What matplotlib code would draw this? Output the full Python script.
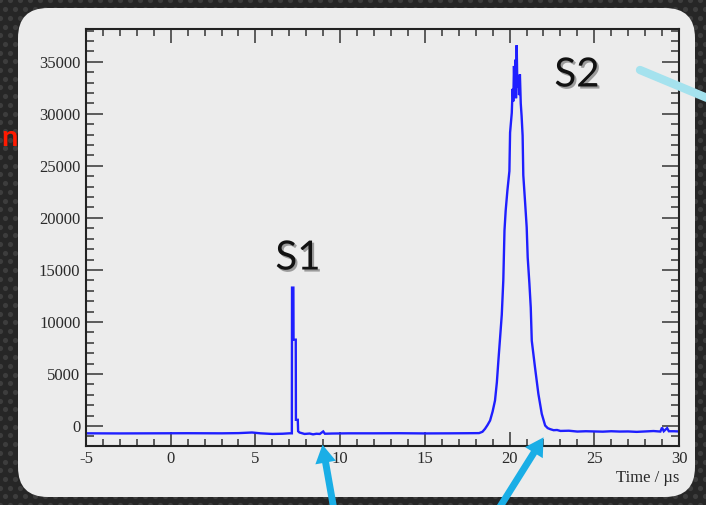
import matplotlib
matplotlib.use('Agg')
import matplotlib.pyplot as plt
import matplotlib.patheffects as pe
import numpy as np
from matplotlib.patches import FancyBboxPatch, FancyArrowPatch
from matplotlib.lines import Line2D
from matplotlib.ticker import MultipleLocator

plt.rcParams['axes.unicode_minus'] = False

# waveform (time in us, counts)
time_us = [-5.0, -3.0, -1.0, 1.0, 3.0, 4.0, 4.8, 5.3, 6.0, 6.6, 7.0, 7.15,
           7.16, 7.24, 7.25, 7.38, 7.39, 7.5, 7.52, 7.6, 7.9, 8.2, 8.4, 8.6,
           8.8, 9.0, 9.1, 9.5, 10.5, 12.0, 13.5, 15.0, 16.5, 17.5, 18.2,
           18.4, 18.55, 18.7, 18.85, 19.0, 19.14, 19.25, 19.34, 19.45, 19.54,
           19.63, 19.7, 19.77, 19.87, 19.99, 20.03, 20.13, 20.18, 20.22, 20.26,
           20.3, 20.34, 20.38, 20.42, 20.46, 20.51, 20.56, 20.61, 20.66, 20.71,
           20.77, 20.81, 20.92, 21.01, 21.07, 21.17, 21.25, 21.31, 21.5, 21.7,
           21.9, 22.1, 22.25, 22.4, 22.6, 22.8, 23.0, 23.5, 24.0, 24.5, 25.0,
           25.5, 26.0, 26.5, 27.0, 27.5, 28.0, 28.5, 28.9, 29.0, 29.1, 29.3,
           29.4, 29.7, 30.0]
counts = [-700, -710, -700, -690, -700, -680, -620, -700, -760, -740, -700, -700,
          13300, 13300, 8300, 8300, 600, 600, -500, -620, -760, -720, -800, -740,
          -760, -520, -740, -720, -700, -700, -690, -710, -700, -690, -680,
          -550, -270, 100, 530, 1400, 2450, 4200, 6290, 8700, 10700,
          14000, 18800, 20700, 22600, 24500, 28200, 30100, 32400, 31200, 34600,
          32000, 35200, 31500, 36600, 32500, 33700, 31800, 33800, 31000, 29800,
          27900, 24100, 21400, 19100, 16200, 13700, 11400, 8200, 5650, 3090,
          1170, 50, -200, -300, -400, -380, -470, -450, -530, -500, -520,
          -540, -500, -530, -520, -560, -520, -480, -530, -150, -500, -200,
          -500, -500, -520]

x_ticks = [-5, 0, 5, 10, 15, 20, 25, 30]
y_ticks = [0, 5000, 10000, 15000, 20000, 25000, 30000, 35000]

fig = plt.figure(figsize=(7.06, 5.05), dpi=100)
fig.patch.set_facecolor('#262626')

# perforated dark slide background
gx, gy = np.meshgrid(np.arange(0, 7.2, 0.1), np.arange(0, 5.2, 0.087))
gx = gx + (np.arange(gy.shape[0])[:, None] % 2) * 0.05
bg = fig.add_axes([0, 0, 1, 1], zorder=-10)
bg.set_xlim(0, 7.06)
bg.set_ylim(0, 5.05)
bg.axis('off')
bg.scatter(gx.ravel(), gy.ravel(), s=14, color='#3d3d3d', lw=0)

# light slide panel
panel = FancyBboxPatch((0.18, 0.08), 6.77, 4.89,
                       boxstyle="round,pad=0,rounding_size=0.3",
                       transform=fig.dpi_scale_trans, facecolor='#ececec',
                       edgecolor='none', zorder=-5)
fig.patches.append(panel)

ax = fig.add_axes([86 / 706, 59.5 / 505, 593 / 706, 417 / 505], zorder=1)
ax.set_facecolor('#ececec')
ax.plot(time_us, counts, color='#1f1fff', lw=1.7, solid_joinstyle='miter')

ax.set_xlim(-5, 30)
ax.set_ylim(-1870, 38200)
ax.set_xticks(x_ticks)
ax.set_yticks(y_ticks)
ax.xaxis.set_minor_locator(MultipleLocator(1))
ax.yaxis.set_minor_locator(MultipleLocator(1000))
ax.tick_params(which='both', direction='in', top=True, right=True,
               color='#333333', width=1.1)
ax.tick_params(axis='x', which='major', length=10, pad=4)
ax.tick_params(axis='x', which='minor', length=5)
ax.tick_params(axis='y', which='major', length=12, pad=4)
ax.tick_params(axis='y', which='minor', length=6)
for lab in ax.get_xticklabels() + ax.get_yticklabels():
    lab.set_family('Liberation Serif')
    lab.set_fontsize(12)
    lab.set_color('#2a2a2a')
for sp in ax.spines.values():
    sp.set_linewidth(1.5)
    sp.set_color('#222222')

ax.set_xlabel('Time / µs', loc='right', family='Liberation Serif',
              fontsize=12, color='#2a2a2a')
ax.xaxis.set_label_coords(1.0, -0.058)

shadow = [pe.withSimplePatchShadow(offset=(1.5, -1.5), alpha=0.35)]
fig.text(298 / 706, 1 - 258 / 505, 'S1', family='Lato', fontsize=29,
         color='#111111', ha='center', va='center', path_effects=shadow, zorder=5)
fig.text(577 / 706, 1 - 75 / 505, 'S2', family='Lato', fontsize=29,
         color='#111111', ha='center', va='center', path_effects=shadow, zorder=5)

# slide decorations
fig.text(1 / 706, 1 - 138 / 505, 'n', family='Lato', fontsize=21,
         weight='bold', color='#ff1a00', ha='left', va='center', zorder=5)
fig.lines.append(Line2D([6.40, 7.12], [4.35, 4.05], transform=fig.dpi_scale_trans,
                        color='#a5e2ee', lw=6, solid_capstyle='round', zorder=5))
for start, end in [((3.34, -0.05), (3.22, 0.63)), ((4.98, -0.05), (5.45, 0.70))]:
    arr = FancyArrowPatch(start, end, transform=fig.dpi_scale_trans,
                          arrowstyle='simple,head_length=13,head_width=15,tail_width=5',
                          mutation_scale=1, color='#1aaee6', lw=0, zorder=5)
    fig.patches.append(arr)

fig.savefig('out.png', dpi=100, facecolor=fig.get_facecolor())
